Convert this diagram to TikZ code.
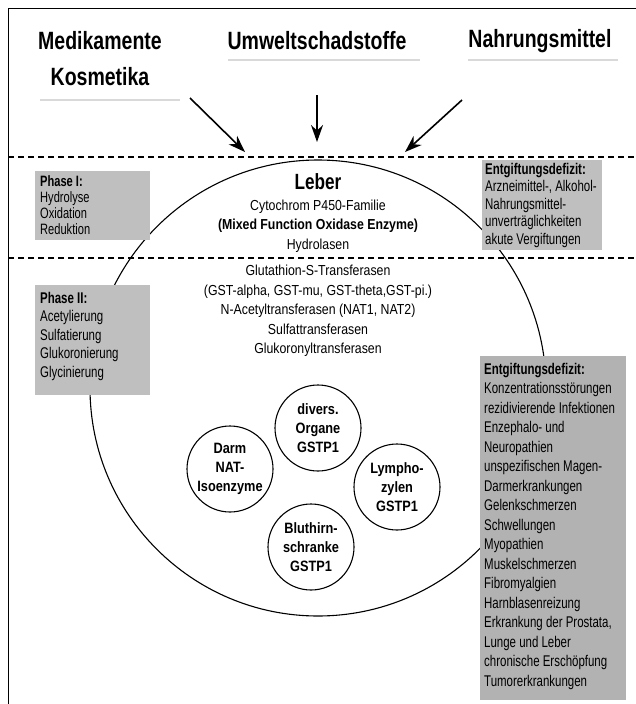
\documentclass[tikz,border=0pt]{standalone}
\usepackage{fontspec}
\setmainfont{Liberation Sans}
\newfontfamily\condfont[FakeStretch=0.85]{Liberation Sans}
\newfontfamily\headfont[FakeStretch=0.78]{Liberation Sans}
\newfontfamily\tightfont[FakeStretch=0.74]{Liberation Sans}
\usetikzlibrary{arrows.meta}

\tikzset{
  source/.style={font=\headfont\bfseries\fontsize{25}{36}\selectfont, align=center, inner sep=0pt},
  enzyme/.style={font=\condfont\fontsize{14.5}{19.5}\selectfont, align=center, inner sep=0pt},
  graybox/.style={fill=gray!50, draw=none},
  boxtext/.style={font=\tightfont\fontsize{15.5}{19.5}\selectfont, align=left, anchor=north west, inner sep=0pt},
  organ/.style={circle, draw, line width=1.1pt, minimum size=86pt, inner sep=0pt,
    font=\condfont\bfseries\fontsize{15}{19}\selectfont, align=center},
  influx/.style={-{Stealth[length=17pt,width=12pt]}, line width=1.6pt},
  zone/.style={dash pattern=on 6pt off 4pt, line width=1.6pt},
  scanline/.style={gray!30, line width=2pt}
}

\begin{document}
\begin{tikzpicture}[x=1pt, y=-1pt]
  \useasboundingbox (0,0) rectangle (636,704);
  % frame
  \coordinate (fbl) at (8,704);
  \coordinate (ftl) at (8,8);
  \coordinate (ftr) at (636,8);
  \draw[line width=1pt] (fbl) -- (ftl) -- (ftr);

  % sources
  \node[source] (medi) at (100,59) {Medikamente\\Kosmetika};
  \node[source] (umwelt) at (317,41) {Umweltschadstoffe};
  \node[source] (nahrung) at (540,41) {Nahrungsmittel};

  % faint scan strips
  \coordinate (s1a) at (40,100);  \coordinate (s1b) at (180,100);
  \coordinate (s2a) at (228,60);  \coordinate (s2b) at (420,60);
  \coordinate (s3a) at (468,60);  \coordinate (s3b) at (618,60);
  \draw[scanline] (s1a) -- (s1b);
  \draw[scanline] (s2a) -- (s2b);
  \draw[scanline] (s3a) -- (s3b);

  % arrows into the liver
  \coordinate (m-tail) at (190,98);  \coordinate (m-tip) at (245,152);
  \coordinate (u-tail) at (317,95);  \coordinate (u-tip) at (317,142);
  \coordinate (n-tail) at (462,100); \coordinate (n-tip) at (405,152);
  \draw[influx] (m-tail) -- (m-tip);
  \draw[influx] (u-tail) -- (u-tip);
  \draw[influx] (n-tail) -- (n-tip);

  % zone borders
  \coordinate (z1w) at (8,157);  \coordinate (z1e) at (636,157);
  \coordinate (z2w) at (8,258);  \coordinate (z2e) at (636,258);
  \draw[zone] (z1w) -- (z1e);
  \draw[zone] (z2w) -- (z2e);

  % liver
  \node[circle, draw, line width=1.1pt, minimum size=456pt, inner sep=0pt] (leber) at (318,388) {};
  \node[font=\headfont\bfseries\fontsize{22}{24}\selectfont] (leberlabel) at (318,182) {Leber};
  \node[enzyme] (phase1enz) at (318,226) {Cytochrom P450-Familie\\
    \textbf{(Mixed Function Oxidase Enzyme)}\\Hydrolasen};
  \node[enzyme] (phase2enz) at (318,311) {Glutathion-S-Transferasen\\
    (GST-alpha, GST-mu, GST-theta,GST-pi.)\\N-Acetyltransferasen (NAT1, NAT2)\\
    Sulfattransferasen\\Glukoronyltransferasen};

  % gray boxes
  \fill[graybox] (35,171) rectangle (150,240);
  \node[boxtext, font=\tightfont\fontsize{15}{16}\selectfont] (phase1) at (40,175)
    {\textbf{Phase I:}\\Hydrolyse\\Oxidation\\Reduktion};
  \fill[graybox] (482,160) rectangle (602,250);
  \node[boxtext, font=\tightfont\fontsize{15.5}{17.5}\selectfont] (defizit1) at (485,163)
    {\textbf{Entgiftungsdefizit:}\\Arzneimittel-, Alkohol-\\
    Nahrungsmittel-\\unverträglichkeiten\\akute Vergiftungen};
  \fill[graybox] (35,285) rectangle (150,395);
  \node[boxtext, font=\tightfont\fontsize{15.5}{18.5}\selectfont] (phase2) at (40,292)
    {\textbf{Phase II:}\\Acetylierung\\Sulfatierung\\Glukoronierung\\Glycinierung};
  \fill[graybox, fill=gray!60] (480,356) rectangle (626,700);
  \node[boxtext] (defizit2) at (484,363) {\textbf{Entgiftungsdefizit:}\\Konzentrationsstörungen\\
    rezidivierende Infektionen\\Enzephalo- und\\Neuropathien\\unspezifischen Magen-\\
    Darmerkrankungen\\Gelenkschmerzen\\Schwellungen\\Myopathien\\Muskelschmerzen\\
    Fibromyalgien\\Harnblasenreizung\\Erkrankung der Prostata,\\Lunge und Leber\\
    chronische Erschöpfung\\Tumorerkrankungen};

  % organs
  \node[organ] (organe) at (318,428) {divers.\\Organe\\GSTP1};
  \node[organ] (darm) at (230,469) {Darm\\NAT-\\Isoenzyme};
  \node[organ] (lympho) at (397,487) {Lympho-\\zylen\\GSTP1};
  \node[organ] (bluthirn) at (311,547) {Bluthirn-\\schranke\\GSTP1};
\end{tikzpicture}
\end{document}
